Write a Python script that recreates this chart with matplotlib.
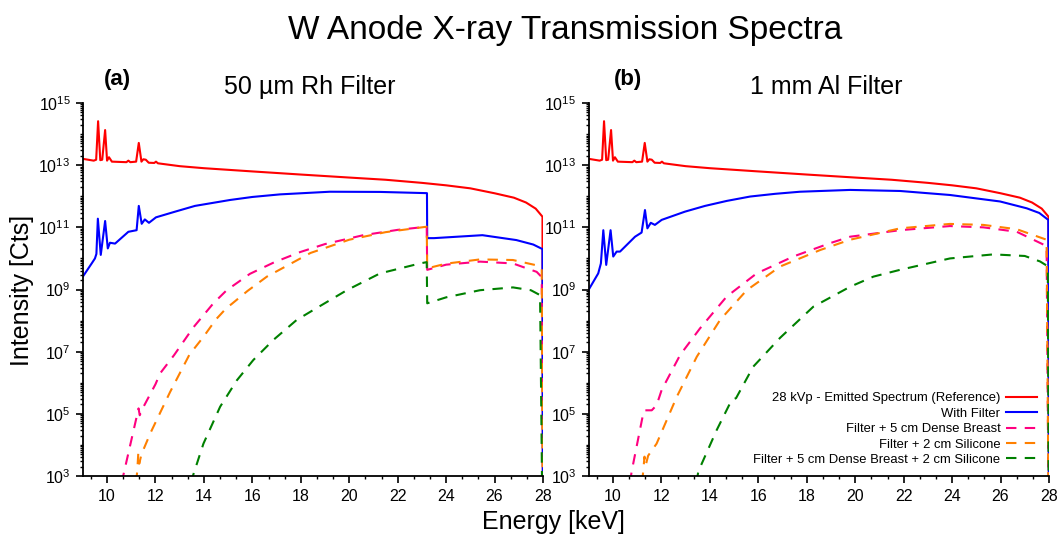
import matplotlib
matplotlib.use("Agg")
import matplotlib.pyplot as plt
import matplotlib.ticker as mticker
import numpy as np

plt.rcParams['font.family'] = ['Liberation Sans', 'DejaVu Sans']
plt.rcParams['mathtext.default'] = 'regular'

# emitted spectrum (same in both panels)
e_ref = [9.0, 9.45, 9.55, 9.63, 9.72, 9.8, 9.92, 10.0, 10.08, 10.2, 10.8, 10.88, 10.96,
         11.2, 11.31, 11.42, 11.5, 11.6, 11.72, 11.95, 12.02, 12.1, 13.0, 14.0, 16.0,
         18.0, 20.0, 21.5, 23.0, 24.0, 25.0, 26.0, 26.8, 27.3, 27.7, 27.98, 28.0]
i_ref = [1.6e13, 1.4e13, 1.5e13, 2.6e14, 1.45e13, 1.5e13, 1.35e14, 1.4e13, 1.8e13, 1.3e13,
         1.25e13, 1.4e13, 1.25e13, 1.3e13, 5.2e13, 1.3e13, 1.55e13, 1.5e13, 1.2e13, 1.18e13,
         1.3e13, 1.15e13, 9.3e12, 8.0e12, 6.3e12, 5.0e12, 4.0e12, 3.4e12, 2.7e12, 2.25e12,
         1.8e12, 1.25e12, 9e11, 6.3e11, 4.0e11, 2.2e11, 1.0]

# (a) 50 um Rh filter
e_a_filt = [9.0, 9.37, 9.5, 9.56, 9.62, 9.74, 9.92, 10.03, 10.12, 10.33, 10.88, 11.22, 11.31,
            11.43, 11.56, 11.73, 12.02, 12.81, 13.63, 14.3, 15.08, 16.0, 17.14, 19.2, 21.27,
            23.21, 23.22, 23.5, 25.5, 26.9, 27.6, 27.98, 28.0]
i_a_filt = [2.6e9, 7e9, 1.0e10, 1.4e10, 1.9e11, 1.3e10, 1.6e11, 2.1e10, 3.2e10, 3.0e10, 7.2e10,
            8.1e10, 4.9e11, 1.3e11, 1.8e11, 1.4e11, 2.1e11, 3.2e11, 4.9e11, 6.0e11, 7.6e11,
            9.5e11, 1.15e12, 1.4e12, 1.38e12, 1.26e12, 4.5e10, 4.5e10, 5.6e10, 3.9e10, 2.8e10,
            2.0e10, 1.0]
e_a_breast = [10.6, 11.25, 11.3, 11.35, 11.45, 12.0, 12.19, 12.77, 13.56, 14.39, 14.94, 15.9,
              16.9, 17.97, 19.0, 20.58, 22.0, 23.2, 23.22, 24.0, 25.4, 26.76, 27.74, 27.95, 28.0]
i_a_breast = [6e2, 1.0e5, 1.5e5, 9e4, 1.4e5, 9e5, 2.0e6, 7.8e6, 6.0e7, 3.6e8, 9.5e8, 3.2e9,
              7.5e9, 1.6e10, 2.9e10, 5.6e10, 8.3e10, 1.05e11, 4.3e9, 6.3e9, 7.9e9, 6.9e9,
              3.7e9, 2.5e9, 1.0]
e_a_sil = [11.2, 11.25, 11.29, 11.33, 11.42, 11.8, 12.6, 13.4, 13.98, 14.5, 15.0, 15.12, 15.8,
           16.6, 18.4, 20.0, 21.5, 23.2, 23.22, 24.0, 25.4, 26.76, 27.74, 27.95, 28.0]
i_a_sil = [6e2, 1.6e3, 5.5e3, 2.5e3, 5e3, 2.5e4, 5e5, 8e6, 3.0e7, 1.1e8, 2.9e8, 3.3e8, 9e8,
           2.6e9, 1.5e10, 4.0e10, 7.0e10, 1.05e11, 4.8e9, 6.8e9, 9.3e9, 8.9e9, 6.0e9, 4.5e9, 1.0]
e_a_both = [13.45, 13.98, 14.67, 15.36, 16.04, 16.87, 17.83, 18.52, 19.9, 21.27, 22.92, 23.2,
            23.22, 24.0, 25.4, 26.76, 27.5, 27.88, 28.0]
i_a_both = [6e2, 1.1e4, 1.7e5, 1.2e6, 5.4e6, 2.4e7, 1.05e8, 2.2e8, 9.5e8, 3.3e9, 6.9e9, 7.6e9,
            3.6e8, 5.6e8, 9.5e8, 1.17e9, 9.5e8, 6.6e8, 1.0]

# (b) 1 mm Al filter
e_b_filt = [9.0, 9.39, 9.5, 9.6, 9.72, 9.9, 10.01, 10.15, 10.29, 10.91, 11.18, 11.32, 11.42,
            11.56, 11.73, 12.01, 12.97, 13.8, 14.7, 15.66, 16.7, 17.72, 19.79, 21.85, 23.91,
            25.98, 27.08, 27.6, 27.97, 28.0]
i_b_filt = [1e9, 3.3e9, 6.9e9, 8.1e10, 6.2e9, 8.1e10, 1.15e10, 1.66e10, 1.66e10, 5.0e10, 6.8e10,
            3.6e11, 9.3e10, 1.4e11, 1.2e11, 1.74e11, 3.2e11, 4.9e11, 7.1e11, 9.8e11, 1.2e12,
            1.4e12, 1.6e12, 1.48e12, 1.1e12, 6.8e11, 4.1e11, 2.9e11, 1.74e11, 1.0]
e_b_breast = [10.7, 10.77, 11.25, 11.3, 11.6, 11.8, 12.01, 12.77, 13.59, 14.69, 15.93, 17.44,
              18.96, 19.79, 21.85, 23.91, 25.29, 26.67, 27.9, 28.0]
i_b_breast = [6e2, 1.4e3, 1.05e5, 1.3e5, 1.3e5, 1.9e5, 5.9e5, 7.8e6, 5.6e7, 5.9e8, 3.3e9,
              1.15e10, 3.1e10, 5.0e10, 8.1e10, 1.1e11, 1.0e11, 7.2e10, 2.5e10, 1.0]
e_b_sil = [11.2, 11.25, 11.3, 11.35, 11.45, 11.8, 12.63, 13.46, 14.42, 15.52, 16.9, 18.55,
           19.79, 21.85, 23.91, 25.29, 26.67, 27.9, 28.0]
i_b_sil = [6e2, 1.5e3, 4.2e3, 2.2e3, 4.5e3, 1.1e4, 3.5e5, 6.9e6, 1.05e8, 9.5e8, 5.5e9, 1.86e10,
           4.0e10, 9.3e10, 1.29e11, 1.2e11, 8.7e10, 4.0e10, 1.0]
e_b_both = [13.45, 13.52, 14.28, 14.9, 15.08, 15.79, 16.9, 18.27, 19.79, 20.75, 21.85, 23.91,
            25.7, 27.0, 27.63, 27.95, 28.0]
i_b_both = [6e2, 1.4e3, 3.0e4, 2.8e5, 3.2e5, 3.3e6, 2.8e7, 2.8e8, 1.23e9, 2.6e9, 4.3e9, 1.0e10,
            1.35e10, 1.2e10, 8e9, 5.6e9, 1.0]

labels = ['28 kVp - Emitted Spectrum (Reference)', 'With Filter', 'Filter + 5 cm Dense Breast',
          'Filter + 2 cm Silicone', 'Filter + 5 cm Dense Breast + 2 cm Silicone']
colors = ['#FF0000', '#0000FF', '#FF0080', '#FF8000', '#008000']

fig = plt.figure(figsize=(10.58, 5.36), dpi=100)
ax_a = fig.add_axes([0.0783, 0.1119, 0.4349, 0.6959])
ax_b = fig.add_axes([0.5565, 0.1119, 0.435, 0.6959])

panels = [
    (ax_a, [(e_ref, i_ref), (e_a_filt, i_a_filt), (e_a_breast, i_a_breast),
            (e_a_sil, i_a_sil), (e_a_both, i_a_both)]),
    (ax_b, [(e_ref, i_ref), (e_b_filt, i_b_filt), (e_b_breast, i_b_breast),
            (e_b_sil, i_b_sil), (e_b_both, i_b_both)]),
]

major_y = [10.0 ** k for k in range(3, 16, 2)]
minor_y = [m * 10.0 ** k for k in range(3, 15) for m in range(1, 10) if not (m == 1 and k % 2 == 1)]

for ax, series in panels:
    for n, (e, i) in enumerate(series):
        if n < 2:
            ax.plot(e, i, color=colors[n], lw=1.5, label=labels[n])
        else:
            ax.plot(e, i, color=colors[n], lw=1.5, dashes=(5, 4), label=labels[n])
    ax.set_yscale('log')
    ax.set_xlim(9, 28)
    ax.set_ylim(1e3, 1e15)
    ax.yaxis.set_major_locator(mticker.FixedLocator(major_y))
    ax.yaxis.set_minor_locator(mticker.FixedLocator(minor_y))
    ax.yaxis.set_major_formatter(mticker.LogFormatterSciNotation())
    ax.yaxis.set_minor_formatter(mticker.NullFormatter())
    ax.xaxis.set_major_locator(mticker.MultipleLocator(2))
    ax.xaxis.set_minor_locator(mticker.AutoMinorLocator(3))
    ax.spines['top'].set_visible(False)
    ax.spines['right'].set_visible(False)
    for s in ('left', 'bottom'):
        ax.spines[s].set_linewidth(1.3)
    ax.tick_params(which='major', direction='out', length=5, width=1.2, labelsize=11.5, pad=4)
    ax.tick_params(which='minor', direction='out', length=2.5, width=1.0)

ax_b.legend(loc='lower right', bbox_to_anchor=(1037 / 1058, 1 - 466 / 536),
            bbox_transform=fig.transFigure, frameon=False, markerfirst=False,
            fontsize=9.4, labelspacing=0.25, handlelength=2.4, handletextpad=0.4,
            borderpad=0, borderaxespad=0)

fig.text(0.534, 0.944, 'W Anode X-ray Transmission Spectra', ha='center', va='center', fontsize=24)
fig.text(0.293, 0.838, '50 µm Rh Filter', ha='center', va='center', fontsize=18)
fig.text(0.781, 0.838, '1 mm Al Filter', ha='center', va='center', fontsize=18)
fig.text(0.111, 0.852, '(a)', ha='center', va='center', fontsize=16, fontweight='bold')
fig.text(0.594, 0.852, '(b)', ha='center', va='center', fontsize=16, fontweight='bold')
fig.text(0.021, 0.459, 'Intensity [Cts]', ha='center', va='center', rotation=90, fontsize=18)
fig.text(0.523, 0.027, 'Energy [keV]', ha='center', va='center', fontsize=18)

fig.savefig('out.png', dpi=100)
